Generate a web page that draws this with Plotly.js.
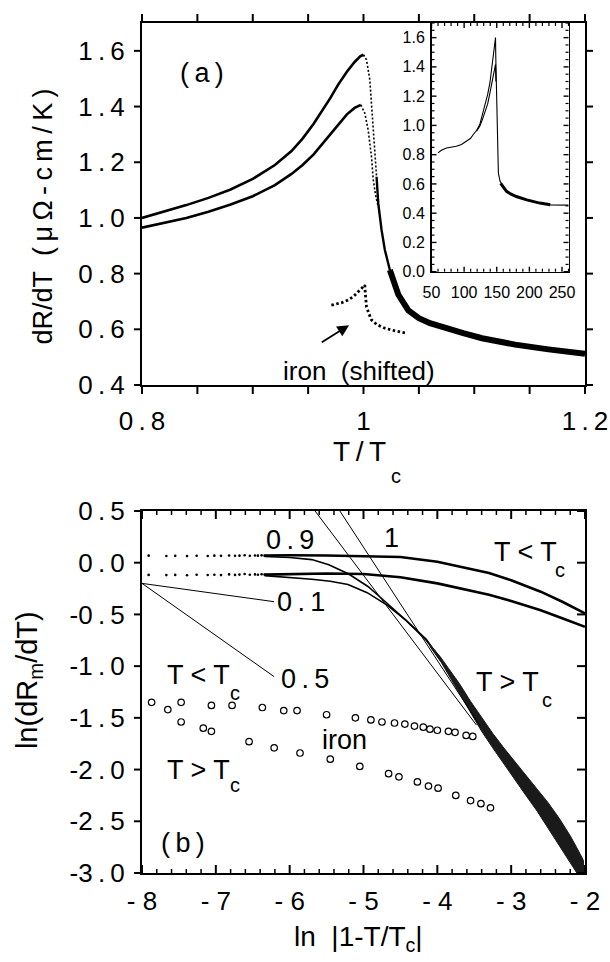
<!DOCTYPE html>
<html>
<head>
<meta charset="utf-8">
<script src="https://cdn.plot.ly/plotly-3.0.1.min.js"></script>
<style>html,body{margin:0;padding:0;background:#fff;}#chart{width:610px;height:962px;}</style>
</head>
<body>
<div id="chart"></div>
<script>
// ---------- Panel (a): dR/dT vs T/Tc ----------
const aUpperRiseX = [0.80, 0.82, 0.84, 0.86, 0.88, 0.90, 0.92, 0.935, 0.945, 0.955, 0.962, 0.970, 0.977, 0.985, 0.992, 0.997, 1.000];
const aUpperRiseY = [1.000, 1.022, 1.046, 1.072, 1.102, 1.140, 1.190, 1.240, 1.285, 1.338, 1.380, 1.430, 1.478, 1.525, 1.560, 1.580, 1.586];
const aUpperDropX = [1.000, 1.0027, 1.0057, 1.0072, 1.0088, 1.0102, 1.0118];
const aUpperDropY = [1.586, 1.568, 1.496, 1.400, 1.316, 1.233, 1.148];
const aFallX = [1.0118, 1.0133, 1.0163, 1.0193, 1.0238, 1.0314];
const aFallY = [1.148, 1.053, 0.957, 0.885, 0.813, 0.725];
const aLowerRiseX = [0.80, 0.82, 0.84, 0.86, 0.88, 0.90, 0.92, 0.935, 0.945, 0.955, 0.962, 0.970, 0.977, 0.985, 0.992, 0.9976];
const aLowerRiseY = [0.965, 0.982, 1.000, 1.022, 1.048, 1.078, 1.118, 1.158, 1.190, 1.228, 1.262, 1.300, 1.335, 1.372, 1.395, 1.406];
const aLowerDropX = [0.9976, 1.0012, 1.0042, 1.0072, 1.0088, 1.011, 1.0133];
const aLowerDropY = [1.406, 1.376, 1.316, 1.220, 1.137, 1.080, 1.040];
const aTailX = [1.0238, 1.0314, 1.0405, 1.050, 1.060, 1.077, 1.090, 1.107, 1.137, 1.167, 1.20];
const aTailY = [0.813, 0.725, 0.668, 0.640, 0.622, 0.600, 0.586, 0.568, 0.545, 0.528, 0.512];
const ironAX = [0.971, 0.980, 0.986, 0.991, 0.9952, 0.999, 1.0012, 1.0015, 1.002, 1.0027, 1.005, 1.0072, 1.012, 1.0193, 1.028, 1.039];
const ironAY = [0.687, 0.695, 0.705, 0.718, 0.735, 0.748, 0.759, 0.735, 0.705, 0.681, 0.655, 0.634, 0.617, 0.604, 0.595, 0.586];

// ---------- Inset: dR/dT vs T (K) ----------
const insetUpperX = [60, 65, 73, 80, 88, 96, 104, 110, 114, 119, 124, 128, 132, 136, 139.5, 142, 144.5, 146.5, 148.1, 148.6, 149.2, 150, 151, 152.5, 155, 158, 165, 172, 180, 196, 216, 232, 240, 260];
const insetUpperY = [0.812, 0.830, 0.846, 0.850, 0.857, 0.870, 0.892, 0.912, 0.938, 0.965, 1.006, 1.070, 1.130, 1.210, 1.290, 1.370, 1.450, 1.530, 1.600, 1.450, 1.300, 1.100, 0.850, 0.674, 0.620, 0.594, 0.549, 0.530, 0.514, 0.491, 0.469, 0.457, 0.455, 0.455];
const insetLowerX = [119, 124, 128, 132, 136, 139.5, 142, 144.5, 146.5, 148.1, 148.7];
const insetLowerY = [0.960, 0.995, 1.040, 1.086, 1.145, 1.220, 1.280, 1.330, 1.380, 1.417, 1.300];
const insetBandX = [156, 165, 172, 180, 196, 216, 232];
const insetBandY = [0.604, 0.549, 0.530, 0.514, 0.491, 0.469, 0.457];

// ---------- Panel (b): ln(dRm/dT) vs ln|1-T/Tc| ----------
const bDotsX = [-7.91, -7.67, -7.55, -7.39, -7.26, -7.11, -7.02, -6.93, -6.82, -6.74, -6.68, -6.61, -6.54, -6.47, -6.43, -6.38, -6.34];
const bDotsUpperY = [0.068, 0.065, 0.066, 0.064, 0.067, 0.065, 0.068, 0.066, 0.070, 0.066, 0.068, 0.072, 0.066, 0.070, 0.068, 0.071, 0.068];
const bDotsLowerY = [-0.118, -0.120, -0.118, -0.121, -0.117, -0.119, -0.116, -0.120, -0.113, -0.118, -0.115, -0.110, -0.117, -0.113, -0.116, -0.112, -0.115];
const bLtX = [-6.34, -6.0, -5.5, -5.0, -4.5, -4.0, -3.6, -3.3, -3.0, -2.6, -2.3, -2.0];
const bLtAY = [0.068, 0.072, 0.070, 0.065, 0.055, 0.010, -0.050, -0.100, -0.170, -0.280, -0.380, -0.490];
const bLtBY = [-0.115, -0.110, -0.105, -0.110, -0.140, -0.200, -0.260, -0.310, -0.370, -0.460, -0.540, -0.620];
const bGtAX = [-6.34, -6.0, -5.7, -5.47, -5.2, -4.94, -4.7, -4.42, -4.15, -3.95];
const bGtAY = [0.060, 0.050, 0.030, -0.020, -0.110, -0.230, -0.380, -0.560, -0.750, -0.930];
const bGtBX = [-6.34, -6.0, -5.7, -5.45, -5.21, -4.95, -4.68, -4.42, -4.15, -3.95];
const bGtBY = [-0.125, -0.140, -0.160, -0.180, -0.210, -0.290, -0.410, -0.560, -0.740, -0.950];
const bBandX = [-4.1, -3.95, -3.85, -3.7, -3.55, -3.4, -3.25, -3.1, -2.95, -2.8, -2.65, -2.5, -2.35, -2.2, -2.1, -2.02];
const bBandHiY = [-0.79, -0.92, -1.02, -1.17, -1.34, -1.50, -1.65, -1.79, -1.92, -2.05, -2.18, -2.32, -2.47, -2.64, -2.77, -2.88];
const bBandLoY = [-0.81, -0.96, -1.09, -1.27, -1.45, -1.63, -1.79, -1.95, -2.10, -2.25, -2.40, -2.56, -2.73, -2.90, -3.01, -3.10];
const ironLtX = [-7.87, -7.65, -7.47, -7.06, -6.78, -6.37, -6.08, -5.90, -5.50, -5.11, -4.90, -4.75, -4.58, -4.44, -4.31, -4.19, -4.10, -4.00, -3.85, -3.76, -3.61, -3.52];
const ironLtY = [-1.35, -1.42, -1.35, -1.38, -1.38, -1.40, -1.43, -1.43, -1.47, -1.50, -1.52, -1.54, -1.55, -1.56, -1.58, -1.59, -1.61, -1.62, -1.63, -1.64, -1.67, -1.68];
const ironGtX = [-7.47, -7.17, -7.06, -6.55, -6.21, -5.86, -5.45, -5.05, -4.66, -4.52, -4.27, -4.12, -3.99, -3.75, -3.55, -3.41, -3.28];
const ironGtY = [-1.54, -1.60, -1.63, -1.73, -1.79, -1.84, -1.90, -1.97, -2.04, -2.07, -2.12, -2.16, -2.18, -2.25, -2.30, -2.33, -2.37];
const fit01X = [-8.0, -6.21]; const fit01Y = [-0.20, -0.377];
const fit05X = [-8.0, -6.21]; const fit05Y = [-0.20, -1.102];
const fit09X = [-5.656, -3.47]; const fit09Y = [0.5, -1.57];
const fit1X = [-5.32, -3.42]; const fit1Y = [0.5, -1.58];

// ---------- Ticks ----------
const sp = s => s.replace('.', '\u2009.\u2009');
const aXTickVals = [0.8, 0.85, 0.9, 0.95, 1.0, 1.05, 1.1, 1.15, 1.2];
const aXTickText = ['0.8', '', '', '', '1', '', '', '', '1.2'].map(sp);
const aYTickVals = [0.4, 0.6, 0.8, 1.0, 1.2, 1.4, 1.6];
const aYTickText = ['0.4', '0.6', '0.8', '1.0', '1.2', '1.4', '1.6'].map(sp);
const insXTickVals = [50, 100, 150, 200, 250];
const insYTickVals = [0, 0.2, 0.4, 0.6, 0.8, 1.0, 1.2, 1.4, 1.6];
const bXTickVals = [-8, -7, -6, -5, -4, -3, -2];
const bXTickText = ['- 8', '- 7', '- 6', '- 5', '- 4', '- 3', '- 2'];
const bYTickVals = [0.5, 0.0, -0.5, -1.0, -1.5, -2.0, -2.5, -3.0];
const bYTickText = ['0.5', '0.0', '-0.5', '-1.0', '-1.5', '-2.0', '-2.5', '-3.0'].map(sp);

const FONT = 'Liberation Sans, Arial, Helvetica, sans-serif';
const K = 'black';

// ---------- geometry (paper fractions) ----------
const W = 443, H = 850;  // plot-area size in px
const A = {x0: 0, x1: 1, y0: 0.5741, y1: 1, xr: [0.8, 1.2], yr: [0.4, 1.7]};
const I = {x0: 0.6535, x1: 0.9628, y0: 0.7074, y1: 1, xr: [50, 260], yr: [0, 1.7]};
const B = {x0: 0, x1: 1, y0: 0, y1: 0.4259, xr: [-8, -2], yr: [-3, 0.5]};
const px = (p, v) => p.x0 + (v - p.xr[0]) / (p.xr[1] - p.xr[0]) * (p.x1 - p.x0);
const py = (p, v) => p.y0 + (v - p.yr[0]) / (p.yr[1] - p.yr[0]) * (p.y1 - p.y0);

// tick marks drawn as shapes (outside on panel a, inside on the inset, mixed on panel b)
const shapes = [];
const seg = (x0, y0, x1, y1, w) => shapes.push({type: 'line', xref: 'paper', yref: 'paper', x0: x0, y0: y0, x1: x1, y1: y1, line: {color: K, width: w}, layer: 'above'});
function xTicks(p, vals, lenBottom, lenTop, w) {
  vals.forEach(v => { const x = px(p, v); seg(x, p.y0, x, p.y0 + lenBottom / H, w); seg(x, p.y1, x, p.y1 + lenTop / H, w); });
}
function yTicks(p, vals, lenLeft, lenRight, w) {
  vals.forEach(v => { const y = py(p, v); seg(p.x0, y, p.x0 + lenLeft / W, y, w); seg(p.x1, y, p.x1 + lenRight / W, y, w); });
}
const steps = (a, b, s) => { const r = []; for (let i = 0; a + i * s <= b + 1e-9; i++) r.push(+(a + i * s).toFixed(4)); return r; };
xTicks(A, aXTickVals, -9, 9, 2);
yTicks(A, aYTickVals, -8, 8, 2);
xTicks(I, steps(60, 260, 10).filter(v => v % 50 !== 0), 3, -3, 1.2);
xTicks(I, insXTickVals, 5, -5, 1.4);
yTicks(I, steps(0.05, 1.7, 0.05).filter(v => Math.abs(v * 5 - Math.round(v * 5)) > 1e-6), 3, -3, 1.2);
yTicks(I, insYTickVals, 5, -5, 1.4);
xTicks(B, steps(-7.8, -2.2, 0.2).filter(v => Math.abs(v - Math.round(v)) > 1e-6), 4, -4, 1.5);
xTicks(B, bXTickVals, 8, -8, 2);
yTicks(B, bYTickVals, -8, -8, 2);

const L = (x, y, xa, ya, w, dash) => ({x: x, y: y, xaxis: xa, yaxis: ya, type: 'scatter', mode: 'lines', line: {color: K, width: w, dash: dash || 'solid'}, hoverinfo: 'skip', showlegend: false});
const M = (x, y, xa, ya, marker) => ({x: x, y: y, xaxis: xa, yaxis: ya, type: 'scatter', mode: 'markers', marker: marker, hoverinfo: 'skip', showlegend: false});

const traces = [
  L(aUpperRiseX, aUpperRiseY, 'x', 'y', 2.6),
  L(aUpperDropX, aUpperDropY, 'x', 'y', 1.6, '2px,2px'),
  L(aFallX, aFallY, 'x', 'y', 2.4),
  L(aLowerRiseX, aLowerRiseY, 'x', 'y', 2.6),
  L(aLowerDropX, aLowerDropY, 'x', 'y', 1.6, '2px,2px'),
  L(aTailX, aTailY, 'x', 'y', 6),
  L(ironAX, ironAY, 'x', 'y', 2.8, '2.5px,2.5px'),
  L(insetUpperX, insetUpperY, 'x2', 'y2', 1.1),
  L(insetLowerX, insetLowerY, 'x2', 'y2', 1.1),
  L(insetBandX, insetBandY, 'x2', 'y2', 3),
  M(bDotsX, bDotsUpperY, 'x3', 'y3', {color: K, size: 2.6}),
  M(bDotsX, bDotsLowerY, 'x3', 'y3', {color: K, size: 2.6}),
  L(bLtX, bLtAY, 'x3', 'y3', 2.6),
  L(bLtX, bLtBY, 'x3', 'y3', 2.6),
  L(bGtAX, bGtAY, 'x3', 'y3', 1.6),
  L(bGtBX, bGtBY, 'x3', 'y3', 1.6),
  {x: bBandX.concat(bBandX.slice().reverse()), y: bBandHiY.concat(bBandLoY.slice().reverse()), xaxis: 'x3', yaxis: 'y3', type: 'scatter', mode: 'lines', fill: 'toself', fillcolor: '#1a1a1a', line: {color: '#1a1a1a', width: 1}, hoverinfo: 'skip', showlegend: false},
  L(fit01X, fit01Y, 'x3', 'y3', 1),
  L(fit05X, fit05Y, 'x3', 'y3', 1),
  L(fit09X, fit09Y, 'x3', 'y3', 1),
  L(fit1X, fit1Y, 'x3', 'y3', 1),
  M(ironLtX, ironLtY, 'x3', 'y3', {symbol: 'circle-open', color: K, size: 6.5, line: {width: 1.2, color: K}}),
  M(ironGtX, ironGtY, 'x3', 'y3', {symbol: 'circle-open', color: K, size: 6.5, line: {width: 1.2, color: K}})
];

const axBase = {showgrid: false, zeroline: false, showline: true, linecolor: K, linewidth: 2, ticks: '', tickfont: {family: FONT, size: 26, color: K}};

const ann = (text, x, y, xref, yref, size, extra) => Object.assign({text: text, x: x, y: y, xref: xref, yref: yref, showarrow: false, font: {family: FONT, size: size, color: K}, xanchor: 'center', yanchor: 'middle'}, extra || {});

const annotations = [
  // axis titles
  ann('dR/dT\u00a0\u00a0(\u2009μ\u2009Ω\u2009-\u2009c\u2009m\u2009/\u2009K\u2009)', -0.2235, 0.7724, 'paper', 'paper', 27, {textangle: -90}),
  ann('T\u2009/\u2009T', 0.49, 0.4953, 'paper', 'paper', 28),
  ann('c', 0.573, 0.4667, 'paper', 'paper', 20),
  ann('ln(dR<sub>m</sub>/dT)', -0.255, 0.227, 'paper', 'paper', 29, {textangle: -90}),
  ann('ln\u00a0\u00a0|1-T/T<sub>c</sub>|', 0.4876, -0.0765, 'paper', 'paper', 28),
  // panel (a)
  ann('(\u2009a\u2009)', 0.854, 1.519, 'x', 'y', 27),
  ann('iron\u00a0\u00a0(shifted)', 0.996, 0.450, 'x', 'y', 26),
  {x: 0.987, y: 0.615, ax: 0.961, ay: 0.550, xref: 'x', yref: 'y', axref: 'x', ayref: 'y', showarrow: true, arrowhead: 2, arrowsize: 1.3, arrowwidth: 1.8, arrowcolor: K, text: ''},
  ann('T (K)', 500, -0.31, 'x2', 'y2', 16),
  // panel (b)
  ann('0\u2009.\u20099', -5.998, 0.22, 'x3', 'y3', 27),
  ann('1', -4.627, 0.236, 'x3', 'y3', 27),
  ann('0\u2009.\u20091', -5.842, -0.377, 'x3', 'y3', 27),
  ann('0\u2009.\u20095', -5.789, -1.121, 'x3', 'y3', 27),
  ann('T &lt; T', -2.81, 0.107, 'x3', 'y3', 27),
  ann('c', -2.336, -0.07, 'x3', 'y3', 20),
  ann('T &gt; T', -3.047, -1.15, 'x3', 'y3', 27),
  ann('c', -2.52, -1.327, 'x3', 'y3', 20),
  ann('T &lt; T', -7.236, -1.086, 'x3', 'y3', 27),
  ann('c', -6.735, -1.263, 'x3', 'y3', 20),
  ann('T &gt; T', -7.236, -2.004, 'x3', 'y3', 27),
  ann('c', -6.735, -2.149, 'x3', 'y3', 20),
  ann('iron', -5.26, -1.714, 'x3', 'y3', 27),
  ann('(\u2009b\u2009)', -7.447, -2.713, 'x3', 'y3', 27)
];

const layout = {
  width: 610, height: 962,
  margin: {l: 142, r: 25, t: 23, b: 89},
  paper_bgcolor: '#fff', plot_bgcolor: '#fff',
  showlegend: false,
  xaxis: Object.assign({}, axBase, {domain: [A.x0, A.x1], anchor: 'y', range: A.xr, tickmode: 'array', tickvals: aXTickVals, ticktext: aXTickText, mirror: true, ticklabelstandoff: 12}),
  yaxis: Object.assign({}, axBase, {domain: [A.y0, A.y1], anchor: 'x', range: A.yr, tickmode: 'array', tickvals: aYTickVals, ticktext: aYTickText, mirror: true, ticklabelstandoff: 10}),
  xaxis2: Object.assign({}, axBase, {domain: [I.x0, I.x1], anchor: 'y2', range: I.xr, tickmode: 'array', tickvals: insXTickVals, linewidth: 1.5, mirror: true, ticklabelstandoff: 6, tickfont: {family: FONT, size: 16, color: K}}),
  yaxis2: Object.assign({}, axBase, {domain: [I.y0, I.y1], anchor: 'x2', range: I.yr, tickmode: 'array', tickvals: insYTickVals, tickformat: '.1f', linewidth: 1.5, mirror: true, ticklabelstandoff: 2, tickfont: {family: FONT, size: 16, color: K}}),
  xaxis3: Object.assign({}, axBase, {domain: [B.x0, B.x1], anchor: 'y3', range: B.xr, tickmode: 'array', tickvals: bXTickVals, ticktext: bXTickText, mirror: true, ticklabelstandoff: 4}),
  yaxis3: Object.assign({}, axBase, {domain: [B.y0, B.y1], anchor: 'x3', range: B.yr, tickmode: 'array', tickvals: bYTickVals, ticktext: bYTickText, mirror: true, ticklabelstandoff: 10}),
  shapes: shapes,
  annotations: annotations
};

Plotly.newPlot('chart', traces, layout, {staticPlot: true, displayModeBar: false});
</script>
</body>
</html>
